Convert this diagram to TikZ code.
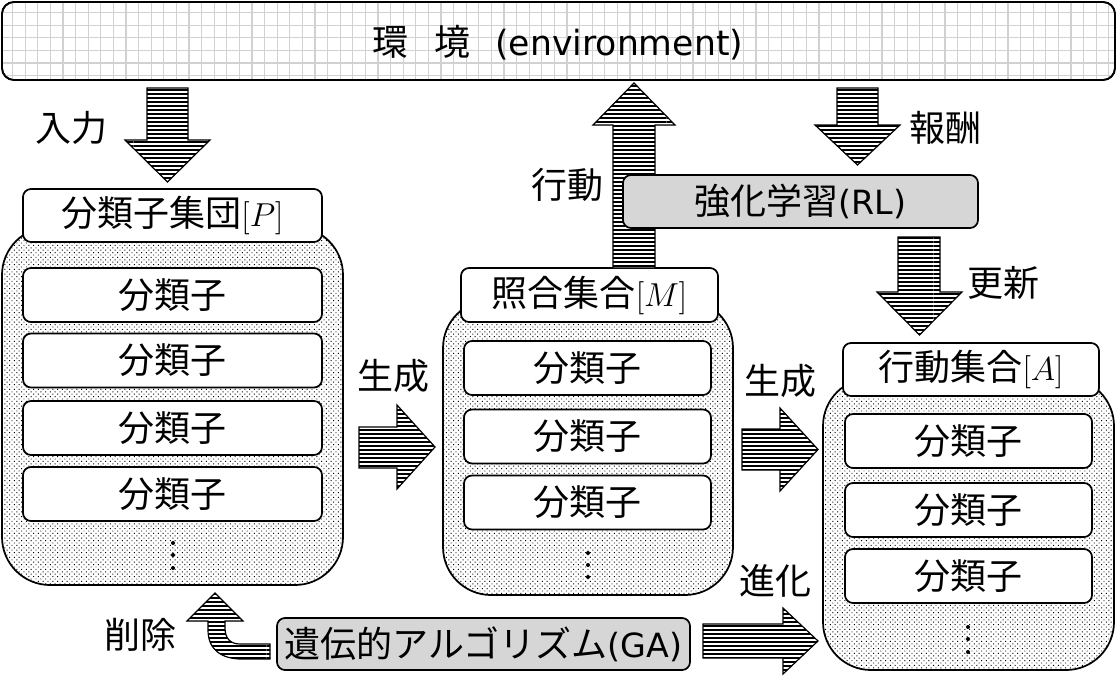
\documentclass[tikz,border=0pt]{standalone}
\usepackage{fontspec}
\setmainfont{Noto Sans CJK JP}
\newfontfamily\lat{DejaVu Sans}
\usetikzlibrary{patterns}
\pgfdeclarepatternformonly{hlinesthick}{\pgfpointorigin}{\pgfqpoint{100pt}{1.2pt}}{\pgfqpoint{100pt}{3pt}}{%
  \pgfsetlinewidth{1.1pt}%
  \pgfpathmoveto{\pgfqpoint{0pt}{0.6pt}}%
  \pgfpathlineto{\pgfqpoint{100pt}{0.6pt}}%
  \pgfusepath{stroke}}
\pgfdeclarepatternformonly{dotsdense}{\pgfqpoint{-0.7pt}{-0.7pt}}{\pgfqpoint{3.7pt}{3.7pt}}{\pgfqpoint{3.6pt}{3.6pt}}{%
  \pgfpathrectangle{\pgfqpoint{-0.35pt}{-0.35pt}}{\pgfqpoint{0.7pt}{0.7pt}}%
  \pgfpathrectangle{\pgfqpoint{1.45pt}{1.45pt}}{\pgfqpoint{0.7pt}{0.7pt}}%
  \pgfusepath{fill}}
\begin{document}
\begin{tikzpicture}[x=0.75pt,y=-0.75pt,
  font=\fontsize{27pt}{31pt}\selectfont,
  box/.style={draw, line width=1.3pt, rounded corners=6pt, fill=white, inner sep=0pt},
  gbox/.style={box, fill=black!16},
  grp/.style={draw, line width=1.3pt, rounded corners=36pt, inner sep=0pt,
     preaction={fill=white}, pattern=dotsdense},
  blk/.style={draw, line width=0.9pt, preaction={fill=white}, pattern=hlinesthick},
  cls/.style={box, minimum height=40.5pt},
  vdot/.style={fill=black}
]
\useasboundingbox (0,0) rectangle (1117,687);

% environment
\node[box, rounded corners=9pt, fill=none, minimum width=834.75pt, minimum height=58.5pt] (env) at (558.5,41) {};
\begin{scope}
  \clip[rounded corners=9pt] (2,2) rectangle (1115,80);
  \draw[black!18, line width=1pt, step=9.45pt] (0,0) grid (1117,82);
\end{scope}
\draw[line width=1.3pt, rounded corners=9pt] (2,2) rectangle (1115,80);
\node (envtext) at (558,43) {環\hspace{0.7em}境\hspace{0.7em}{\lat\fontsize{26pt}{30pt}\selectfont(environment)}};

% groups
\node[grp, minimum width=255.75pt, minimum height=268.5pt] (Pg) at (172.5,406) {};
\node[grp, minimum width=217.5pt, minimum height=221.25pt] (Mg) at (588,447.5) {};
\node[grp, minimum width=218.25pt, minimum height=219pt] (Ag) at (968.5,524) {};

% titles
\node[box, minimum width=224.25pt, minimum height=39.75pt] (P) at (172.5,215.5) {分類子集団$[P]$};
\node[box, minimum width=192.75pt, minimum height=40.5pt] (M) at (589.5,295) {照合集合$[M]$};
\node[box, minimum width=192pt, minimum height=39.75pt] (A) at (971,369.5) {行動集合$[A]$};

% classifiers P
\node[cls, minimum width=224.25pt] (p1) at (172.5,295) {分類子};
\node[cls, minimum width=224.25pt] (p2) at (172.5,360.5) {分類子};
\node[cls, minimum width=224.25pt] (p3) at (172.5,428) {分類子};
\node[cls, minimum width=224.25pt] (p4) at (172.5,494) {分類子};
% classifiers M
\node[cls, minimum width=185.25pt] (m1) at (587.5,368) {分類子};
\node[cls, minimum width=185.25pt] (m2) at (587.5,436.5) {分類子};
\node[cls, minimum width=185.25pt] (m3) at (587.5,502.5) {分類子};
% classifiers A
\node[cls, minimum width=185.25pt] (a1) at (968.5,441) {分類子};
\node[cls, minimum width=185.25pt] (a2) at (968.5,510) {分類子};
\node[cls, minimum width=185.25pt] (a3) at (968.5,576) {分類子};

% vertical dots
\foreach \yy in {543,555,568} \fill[vdot] (173,\yy) circle (1.5pt);
\foreach \yy in {553,565,577} \fill[vdot] (588,\yy) circle (1.5pt);
\foreach \yy in {627,639,652} \fill[vdot] (968,\yy) circle (1.5pt);

% input arrow
\draw[blk] (147,88) -- (188,88) -- (188,140) -- (210,140) -- (167.5,182) -- (125,140) -- (147,140) -- cycle;
% reward arrow
\draw[blk] (837,88) -- (878,88) -- (878,125) -- (900,125) -- (857.5,165) -- (815,125) -- (837,125) -- cycle;
% action arrow (up)
\draw[blk] (613,268) -- (655,268) -- (655,125) -- (675,125) -- (634,83) -- (593,125) -- (613,125) -- cycle;
% update arrow
\draw[blk] (898,237) -- (940,237) -- (940,292) -- (962,292) -- (919.5,335) -- (877,292) -- (898,292) -- cycle;

% RL box
\node[gbox, minimum width=266.25pt, minimum height=39.75pt] (RL) at (800.5,201.5) {強化学習{\lat\fontsize{25pt}{30pt}\selectfont(RL)}};

% generate arrows
\draw[blk] (359,427) -- (397,427) -- (397,405) -- (435,447) -- (397,489) -- (397,468) -- (359,468) -- cycle;
\draw[blk] (742,429) -- (780,429) -- (780,408) -- (818,449.5) -- (780,491) -- (780,470) -- (742,470) -- cycle;
% evolution arrow
\draw[blk] (703,624) -- (783,624) -- (783,608) -- (818,641) -- (783,674) -- (783,658) -- (703,658) -- cycle;

% GA box
\node[gbox, minimum width=309.75pt, minimum height=39pt] (GA) at (483.5,644) {遺伝的アルゴリズム{\lat\fontsize{25pt}{30pt}\selectfont(GA)}};

% delete arrow
\draw[blk] (270,644) -- (240,644) .. controls (230,644) and (225,638) .. (225,628) -- (225,621) -- (243,621) -- (215,593) -- (187,621) -- (208,621) -- (208,630) .. controls (208,650) and (222,659) .. (242,659) -- (270,659) -- cycle;

% labels
\node (lin) at (72,128) {入力};
\node (lact) at (567,185) {行動};
\node (lrew) at (945,128) {報酬};
\node (lupd) at (1003,283) {更新};
\node (lgen1) at (393,376) {生成};
\node (lgen2) at (780,381) {生成};
\node (levo) at (775,581) {進化};
\node (ldel) at (140,635) {削除};
\end{tikzpicture}
\end{document}
